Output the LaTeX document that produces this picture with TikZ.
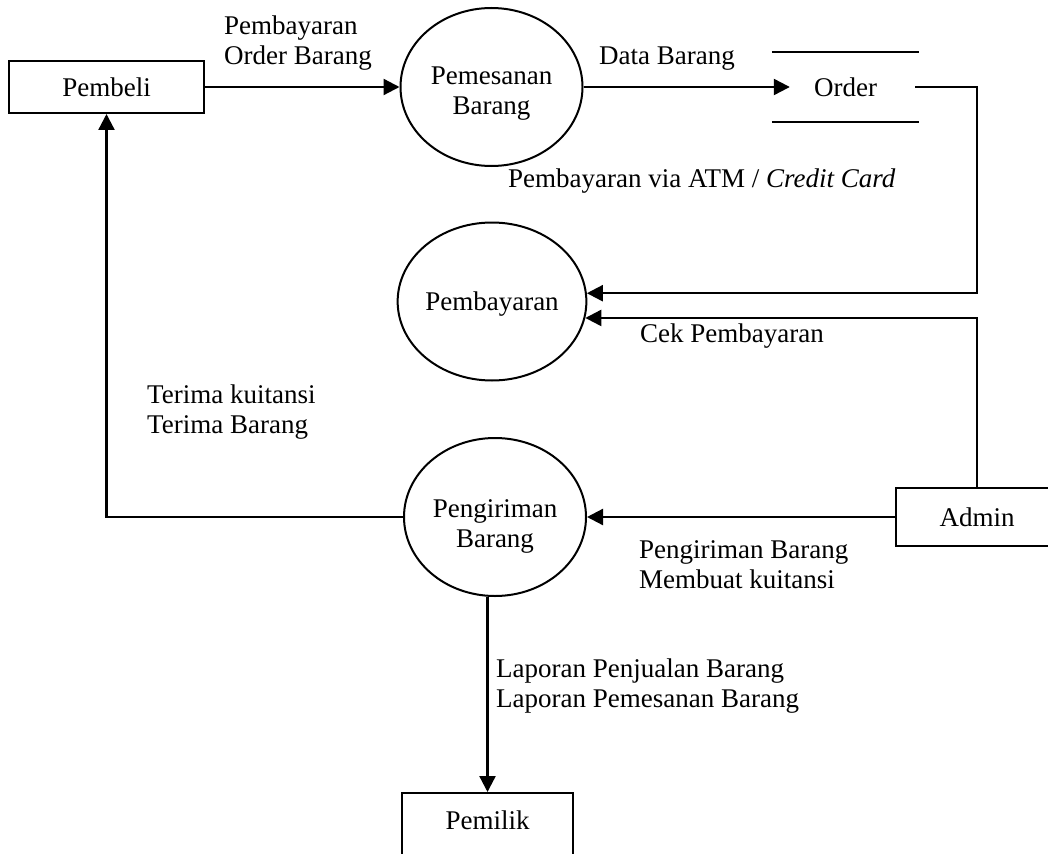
\documentclass[tikz,border=0pt]{standalone}
\usepackage{fontspec}
\setmainfont{Liberation Serif}
\usetikzlibrary{arrows.meta,shapes.geometric}
\begin{document}
\begin{tikzpicture}[x=1pt,y=-1pt,
  every node/.style={font=\fontsize{27}{30}\selectfont},
  entity/.style={draw,line width=2pt,inner sep=0pt,minimum height=52pt},
  process/.style={draw,ellipse,line width=2pt,inner sep=0pt,
    minimum width=182pt,minimum height=158pt,align=center,text depth=0pt},
  flow/.style={line width=2.3pt,-{Triangle[length=16pt,width=16pt]}},
  plain/.style={line width=2.3pt},
  lbl/.style={anchor=base west,align=left,inner sep=0pt}]
\useasboundingbox (0,0) rectangle (1048,853);

% external entities and processes
\node[entity,minimum width=195pt] (pembeli) at (106.5,87) {Pembeli};
\node[process,text height=55pt] (pemesanan) at (491.5,87) {Pemesanan\\Barang};
\node[minimum width=147pt,minimum height=70pt,inner sep=0pt] (order) at (845.5,87) {Order};
\draw[plain] (order.north west) -- (order.north east)
             (order.south west) -- (order.south east);
\node[process] (pembayaran) at (492,301.5) {Pembayaran};
\node[process,text height=61pt] (pengiriman) at (495,517) {Pengiriman\\Barang};
\node[entity,minimum width=162pt,minimum height=58pt] (admin) at (977,517) {Admin};
\node[entity,anchor=north,minimum width=171pt,minimum height=0pt,
      inner ysep=18pt,text depth=40pt] (pemilik) at (487.5,792) {Pemilik};

% data flows
\draw[flow] (pembeli.east) -- (pemesanan.west);
\draw[flow] (pemesanan.east) -- ([xshift=18pt]order.west);
\draw[flow] ([xshift=-4pt]order.east) -| (admin.north |- pembayaran.5) -- (pembayaran.5);
\draw[flow] (admin.north) |- (pembayaran.-10);
\draw[flow] (admin.west) -- (pengiriman.east);
\draw[flow] (pengiriman.west) -| (pembeli.south);
\draw[flow] (pengiriman.south -| pemilik.north) -- (pemilik.north);

% flow labels (anchored on the baseline of their last line)
\node[lbl] (l1) at (224,65) {Pembayaran\\Order Barang};
\node[lbl] (l2) at (599,65) {Data Barang};
\node[lbl] (l3) at (508,187) {Pembayaran via ATM / \textit{Credit Card}};
\node[lbl] (l4) at (640,342) {Cek Pembayaran};
\node[lbl] (l5) at (147,433) {Terima kuitansi\\Terima Barang};
\node[lbl] (l6) at (639,588) {Pengiriman Barang\\Membuat kuitansi};
\node[lbl] (l7) at (496,707) {Laporan Penjualan Barang\\Laporan Pemesanan Barang};
\end{tikzpicture}
\end{document}
